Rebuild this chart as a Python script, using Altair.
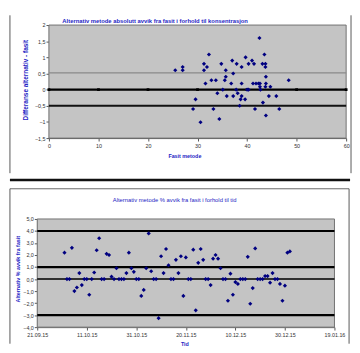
import altair as alt
import pandas as pd

FONT = "Liberation Sans"
BLUE = "#2424c4"
NAVY = "#000080"
PLOT_BG = "#c4c4c4"
LABEL = "#333333"

# ---------------- Chart 1: difference vs reference concentration ----------------
fasit = [25.5, 27.0, 27.0, 29.1, 29.6, 30.6, 31.3, 31.3, 31.6, 31.9,
         32.3, 32.8, 33.2, 33.7, 34.0, 34.4, 34.8, 35.1, 35.5, 35.7,
         35.7, 35.9, 36.8, 37.0, 37.2, 37.2, 37.8, 37.9, 38.1, 38.5,
         38.7, 38.9, 38.9, 38.9, 39.6, 39.7, 40.0, 40.3, 40.3, 41.0,
         41.2, 41.4, 41.6, 41.8, 42.3, 42.5, 42.6, 42.6, 42.7, 43.1,
         43.2, 43.5, 43.7, 43.7, 43.7, 43.8, 43.8, 43.8, 44.7, 44.4,
         45.9, 46.5, 48.4]
diff = [0.60, 0.70, 0.60, -0.60, -0.30, -1.01, 0.80, 0.60, 0.19, 0.70,
        1.09, 0.29, -0.60, 0.29, -0.11, -0.91, 0.80, 0.0, 0.29, 0.60,
        0.40, -0.20, 0.19, 0.90, 0.50, -0.20, 0.0, 0.80, -0.11, -0.50,
        -0.30, 0.70, 0.19, -0.20, -0.30, 1.00, 0.0, 0.0, 0.80, 0.90,
        0.19, 0.80, -0.60, 0.19, 0.19, 1.60, 0.19, 0.09, 0.0, 0.80,
        -0.40, 1.09, 0.70, 0.80, 0.09, -0.80, 0.40, 0.19, 0.09, -0.20,
        -0.20, -0.60, 0.29]
x1_ticks = [0, 10, 20, 30, 40, 50, 60]
y1_ticks = [-1.5, -1, -0.5, 0, 0.5, 1, 1.5, 2]
zero_x = [0, 10, 20, 30, 40, 50, 60]
zero_y = [0, 0, 0, 0, 0, 0, 0]
lines1_y = [0.52, -0.5, 0.0]
lines1_color = ["#8a8a8a", "#111111", "#000000"]
lines1_width = [1.2, 2.0, 2.2]
title1 = "Alternativ metode absolutt avvik fra fasit i forhold til konsentrasjon"

# ---------------- Chart 2: % deviation over time ----------------
start_date = "2015-09-21"
day_offsets = [11, 12, 13, 14, 15, 16, 17, 18, 19, 20,
               21, 22, 23, 24, 25, 26, 27, 28, 29, 30,
               31, 32, 33, 34, 35, 36, 37, 38, 39, 40,
               41, 42, 43, 44, 45, 46, 47, 48, 49, 50,
               51, 52, 53, 54, 55, 56, 57, 58, 59, 60,
               61, 62, 63, 64, 65, 66, 67, 68, 69, 70,
               71, 72, 73, 74, 75, 76, 77, 78, 79, 80,
               81, 82, 83, 84, 85, 86, 87, 88, 89, 90,
               91, 92, 93, 94, 95, 96, 97, 98, 99, 100,
               101, 102]
pct = [2.2, 0, 0, 2.6, -1.0, -0.7, 0.5, -0.5, 0, 0,
       -1.3, 0, 0.55, 2.4, 3.4, 0, 0, 2.1, 2.0, 0.2,
       0, 0.9, 0, 0, 0, 0.5, 2.2, 0.9, 0.6, 0,
       0, -1.4, -0.9, 0.9, 3.8, 0.65, 0, 0, -3.25, 1.9,
       0.5, 2.5, 1.15, 0, 0, 1.6, 0.5, 1.9, -1.4, 1.8,
       0, 0, 2.45, -2.6, 1.35, 2.5, 1.6, 0, 0, -0.5,
       1.7, 2.0, 1.7, 0.9, 0, 0, -1.8, 0.45, -1.3, -0.25,
       -0.4, 0, 0, 0, 1.85, -2.05, -0.75, 2.55, 0, 0,
       0, 0.25, 0.25, -0.3, 0.5, 0, 0, -0.4, -1.8, -0.55,
       2.2, 2.3]
y2_ticks = [-4, -3, -2, -1, 0, 1, 2, 3, 4, 5]
x2_tick_dates = [(2015, 9, 21), (2015, 10, 11), (2015, 10, 31), (2015, 11, 20),
                 (2015, 12, 10), (2015, 12, 30), (2016, 1, 19)]
lines2_y = [4.0, 1.0, 0.0, -3.0]
lines2_width = [2.2, 2.2, 1.6, 2.2]
title2 = "Alternativ metode % avvik fra fasit i forhold til tid"

dates = [(pd.Timestamp(start_date) + pd.Timedelta(days=d)).strftime("%Y-%m-%d") for d in day_offsets]

df1 = pd.DataFrame({"fasit": fasit, "diff": diff})
df_zero = pd.DataFrame({"fasit": zero_x, "diff": zero_y})
df_lines1 = pd.DataFrame({"diff": lines1_y, "c": lines1_color, "w": lines1_width})
df2 = pd.DataFrame({"dato": dates, "pct": pct})
df_lines2 = pd.DataFrame({"pct": lines2_y, "w": lines2_width})
decor = pd.DataFrame({"k": [0]})


def dt(t):
    return alt.DateTime(year=t[0], month=t[1], date=t[2], utc=True)


def vrule(x, y, y2, color="#555555", w=1.0):
    return alt.Chart(decor).mark_rule(color=color, strokeWidth=w).encode(
        x=alt.value(x), y=alt.value(y), y2=alt.value(y2))


def hrule(y, x, x2, color="#555555", w=1.0):
    return alt.Chart(decor).mark_rule(color=color, strokeWidth=w).encode(
        y=alt.value(y), x=alt.value(x), x2=alt.value(x2))


def plot_rect(x, x2, h):
    return alt.Chart(decor).mark_rect(fill=PLOT_BG, stroke="#707070", strokeWidth=1).encode(
        x=alt.value(x), x2=alt.value(x2), y=alt.value(0), y2=alt.value(h))


def label(text, x, y, bold=True):
    return alt.Chart(pd.DataFrame({"t": [text]})).mark_text(
        font=FONT, fontSize=6, color=BLUE, fontWeight="bold" if bold else "normal",
        align="center", baseline="middle").encode(
        text="t:N", x=alt.value(x), y=alt.value(y))


# chart 1 group origin is placed at the same x as chart 2's plot; its plot is shifted 12 px right
OFF1 = 12
W1, H1 = 305 + OFF1, 116
x1 = alt.X("fasit:Q", scale=alt.Scale(domain=[0, 60], nice=False, range=[OFF1, W1]),
           axis=alt.Axis(values=x1_ticks, title="Fasit metode", titleX=151, titleY=18,
                         labelPadding=3, titleBaseline="middle", titleAlign="center"))
y1 = alt.Y("diff:Q", scale=alt.Scale(domain=[-1.5, 2], nice=False, zero=False),
           axis=alt.Axis(values=y1_ticks, labelExpr="replace(format(datum.value, '~g'), '.', ',')",
                         offset=-OFF1, titleFontSize=6.6,
                         title="Differanse alternativ - fasit", titleX=-24, titleY=56,
                         titleAngle=-90, titleAlign="center", titleBaseline="middle"))

pts1 = alt.Chart(df1).mark_point(shape="diamond", filled=True, color=NAVY, size=18, opacity=1).encode(x=x1, y=y1)
lines1 = alt.Chart(df_lines1).mark_rule().encode(
    y=y1, x=alt.value(OFF1), x2=alt.value(W1),
    color=alt.Color("c:N", scale=None), strokeWidth=alt.StrokeWidth("w:Q", scale=None))
zero1 = alt.Chart(df_zero).mark_point(shape="square", filled=True, color="#000000", size=8, opacity=1).encode(
    x=x1, y=y1)

c1 = alt.layer(
    plot_rect(OFF1, W1, H1),
    lines1, zero1, pts1,
    vrule(-28, -10, 152), vrule(322, -10, 152),
    label(title1, 121, -4, bold=True),
).properties(width=W1, height=H1)

W2, H2 = 305, 111
x2 = alt.X("dato:T", scale=alt.Scale(type="utc", domain=[dt(x2_tick_dates[0]), dt(x2_tick_dates[-1])], nice=False),
           axis=alt.Axis(values=[dt(t) for t in x2_tick_dates],
                         labelExpr="utcFormat(datum.value, '%d.%m.%y')", labelPadding=3,
                         title="Tid", titleX=151, titleY=17, titleBaseline="middle", titleAlign="center"))
y2 = alt.Y("pct:Q", scale=alt.Scale(domain=[-4, 5], nice=False, zero=False),
           axis=alt.Axis(values=y2_ticks, labelExpr="replace(format(datum.value, '.1f'), '.', ',')",
                         title="Alternativ % avvik fra fasit", titleX=-20, titleY=51,
                         titleAngle=-90, titleAlign="center", titleBaseline="middle"))

pts2 = alt.Chart(df2).mark_point(shape="diamond", filled=True, color=NAVY, size=18, opacity=1).encode(x=x2, y=y2)
lines2 = alt.Chart(df_lines2).mark_rule(color="#000000").encode(
    y=y2, strokeWidth=alt.StrokeWidth("w:Q", scale=None))

c2 = alt.layer(
    plot_rect(0, W2, H2),
    lines2, pts2,
    hrule(-40, -28, 321, color="#111111", w=2.5),
    hrule(-31, -28, 320, color="#666666", w=1.0),
    vrule(-28, -31, 128), vrule(320, -31, 128),
    label(title2, 141, -19, bold=False),
).properties(width=W2, height=H2)

chart = alt.vconcat(c1, c2, spacing=4).properties(
    padding={"left": 0, "top": 2, "right": 0, "bottom": 0},
    background="white",
).configure_view(
    fill="transparent", stroke="transparent",
).configure_axis(
    grid=False, labelFont=FONT, labelFontSize=5.5, labelColor=LABEL,
    titleFont=FONT, titleFontSize=5.5, titleColor=BLUE, titleFontWeight="bold",
    domainColor="#555555", tickColor="#555555", tickSize=3, labelPadding=1,
    labelOverlap=False, labelFlush=False,
)

chart.save("out.html", embed_options={"renderer": "svg", "actions": False})
